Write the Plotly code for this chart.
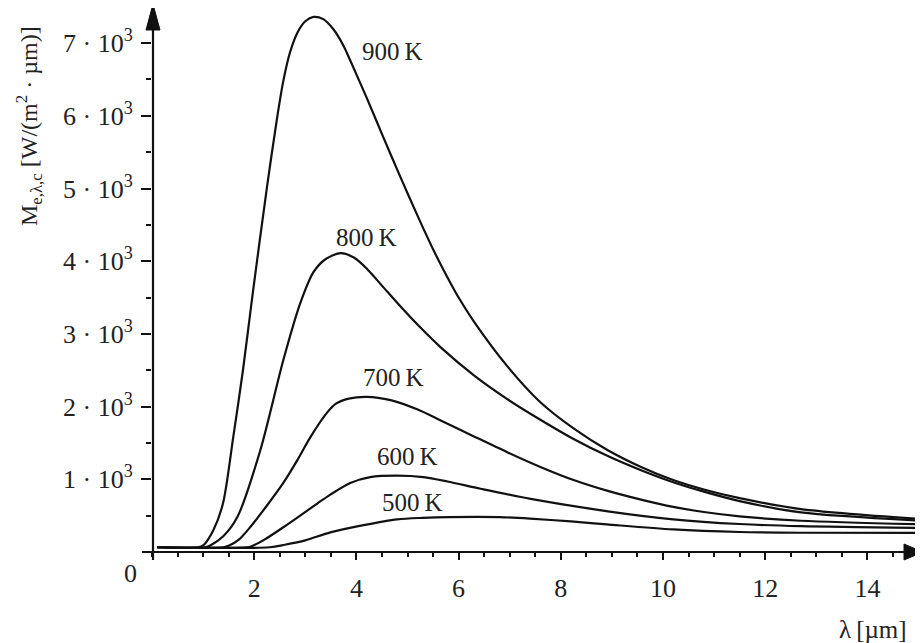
import plotly.graph_objects as go

# ---- data (lambda in µm, M in W/(m²·µm)) ----
lam_900 = [0.1, 0.9, 1.0, 1.2, 1.39, 1.59, 1.78, 1.97, 2.25, 2.45, 2.57, 2.7, 2.85, 3.0, 3.16, 3.35, 3.55,
           3.75, 3.88, 4.2, 4.53, 4.86, 5.2, 5.51, 5.78, 6.0, 6.3, 6.96, 7.6, 8.25, 8.92, 9.57, 10.2,
           10.8, 11.5, 12.7, 15.1]
M_900 = [65, 65, 90, 300, 670, 1580, 2500, 3550, 5020, 5980, 6480, 6870, 7150, 7300, 7360, 7330, 7190,
         6960, 6760, 6250, 5700, 5160, 4620, 4150, 3780, 3500, 3170, 2550, 2060, 1700, 1400, 1170, 990,
         860, 740, 590, 450]

lam_800 = [0.1, 1.05, 1.14, 1.4, 1.67, 2.12, 2.57, 2.9, 3.16, 3.4, 3.69, 3.95, 4.2, 4.53, 4.86, 5.2,
           5.65, 6.3, 6.96, 7.6, 8.25, 8.92, 9.57, 10.2, 10.8, 11.5, 12.7, 15.1]
M_800 = [65, 65, 90, 220, 480, 1400, 2640, 3420, 3850, 4030, 4110, 4050, 3900, 3640, 3380, 3125,
         2815, 2430, 2100, 1820, 1555, 1320, 1125, 960, 830, 700, 545, 430]

lam_700 = [0.1, 1.4, 1.5, 1.7, 1.92, 2.25, 2.57, 2.85, 3.1, 3.43, 3.6, 3.85, 4.2, 4.67, 5.2, 5.65,
           6.3, 6.96, 7.6, 8.25, 8.92, 9.57, 10.2, 10.8, 11.5, 12.7, 15.1]
M_700 = [65, 65, 85, 170, 340, 640, 950, 1270, 1580, 1920, 2040, 2110, 2135, 2090, 1960, 1810,
         1590, 1370, 1170, 990, 840, 720, 620, 550, 490, 430, 380]

lam_600 = [0.1, 1.85, 1.95, 2.2, 2.57, 2.9, 3.24, 3.49, 3.88, 4.27, 4.8, 5.31, 5.78, 6.43, 7.41,
           8.92, 10.2, 11.5, 12.7, 15.1]
M_600 = [65, 65, 80, 170, 340, 500, 670, 790, 950, 1030, 1050, 1030, 970, 870, 730,
         560, 450, 385, 355, 330]

lam_500 = [0.1, 2.3, 2.6, 3.0, 3.49, 4.14, 4.8, 5.3, 5.8, 6.8, 7.4, 8.2, 8.9, 10.2, 11.5, 12.7, 15.1]
M_500 = [65, 65, 100, 160, 270, 370, 450, 470, 480, 480, 460, 420, 380, 310, 275, 265, 262]

curve_names = ["900\u2009K", "800\u2009K", "700\u2009K", "600\u2009K", "500\u2009K"]
curves_x = [lam_900, lam_800, lam_700, lam_600, lam_500]
curves_y = [M_900, M_800, M_700, M_600, M_500]

# label anchor points (data coordinates)
label_x = [4.7, 4.2, 4.72, 5.0, 5.1]
label_y = [6880, 4320, 2400, 1310, 680]

y_tick_vals = [1000, 2000, 3000, 4000, 5000, 6000, 7000]
y_tick_text = ["1 · 10<sup>3</sup>", "2 · 10<sup>3</sup>", "3 · 10<sup>3</sup>", "4 · 10<sup>3</sup>",
               "5 · 10<sup>3</sup>", "6 · 10<sup>3</sup>", "7 · 10<sup>3</sup>"]
x_tick_vals = [2, 4, 6, 8, 10, 12, 14]
x_tick_text = ["2", "4", "6", "8", "10", "12", "14"]
x_odd_tick_vals = [1, 3, 5, 7, 9, 11, 13, 15]

FONT = "Liberation Serif"
INK = "#111111"
TXT = "#222222"

# the page body adds an 8 px offset; the figure is laid out in reference pixels minus that offset
OFF = 8
W, H = 923 - OFF, 643 - OFF
PL, PR, PT, PB = 152, 923, 10, 552          # plot area edges in reference pixels
ML, MR, MT, MB = PL - OFF, 923 - PR, PT - OFF, 643 - PB
PW, PH = PR - PL, PB - PT
X_MAX = PW / 51.1
Y_MAX = PH / 72.7 * 1000


def px(xr):
    return (xr - PL) / PW


def py(yr):
    return (PB - yr) / PH


fig = go.Figure()
for xs, ys, nm in zip(curves_x, curves_y, curve_names):
    fig.add_trace(go.Scatter(x=xs, y=ys, mode="lines", name=nm,
                             line=dict(color=INK, width=2.2, shape="spline", smoothing=0.8),
                             hoverinfo="skip", showlegend=False))

annotations = []
for nm, lx, ly in zip(curve_names, label_x, label_y):
    annotations.append(dict(x=lx, y=ly, xref="x", yref="y", text=nm, showarrow=False,
                            font=dict(family=FONT, size=25, color=TXT)))

annotations += [
    dict(xref="paper", yref="paper", x=px(29), y=py(126), xanchor="center", yanchor="middle",
         text="M<sub>e,λ,c</sub> [W/(m<sup>2</sup> · µm)]",
         textangle=-90, showarrow=False, font=dict(family=FONT, size=24, color=TXT)),
    dict(xref="paper", yref="paper", x=px(909), y=py(629), xanchor="right", yanchor="middle",
         text="λ\u2009[µm]", showarrow=False, font=dict(family=FONT, size=25, color=TXT)),
    dict(xref="paper", yref="paper", x=px(130), y=py(573), xanchor="center", yanchor="middle",
         text="0", showarrow=False, font=dict(family=FONT, size=26, color=TXT)),
]

shapes = [
    # y axis line (extends slightly below origin)
    dict(type="line", xref="paper", yref="paper", x0=px(153), x1=px(153), y0=py(560), y1=py(25),
         line=dict(color=INK, width=2.2)),
    # x axis line (extends slightly left of origin)
    dict(type="line", xref="paper", yref="paper", x0=px(142), x1=px(912), y0=py(552), y1=py(552),
         line=dict(color=INK, width=2.2)),
    # arrowheads
    dict(type="path", xref="paper", yref="paper",
         path=f"M {px(146)} {py(30)} L {px(153)} {py(4)} L {px(160)} {py(30)} Z",
         fillcolor=INK, line=dict(color=INK, width=1)),
    dict(type="path", xref="paper", yref="paper",
         path=f"M {px(904)} {py(544)} L {px(923)} {py(552)} L {px(904)} {py(560)} Z",
         fillcolor=INK, line=dict(color=INK, width=1)),
]

fig.update_layout(
    width=W, height=H,
    margin=dict(l=ML, r=MR, t=MT, b=MB, pad=0),
    paper_bgcolor="white", plot_bgcolor="white",
    annotations=annotations, shapes=shapes,
    font=dict(family=FONT, color=TXT),
    xaxis=dict(range=[0, X_MAX], showgrid=False, zeroline=False, showline=False,
               tickvals=x_tick_vals, ticktext=x_tick_text, ticks="outside", ticklen=7,
               tickwidth=1.8, tickcolor=INK, ticklabelstandoff=6,
               tickfont=dict(family=FONT, size=26, color=TXT),
               minor=dict(dtick=0.5, tick0=0, ticks="outside", ticklen=4, tickwidth=1.5,
                          tickcolor=INK, showgrid=False)),
    xaxis2=dict(overlaying="x", matches="x", anchor="y", side="bottom", range=[0, X_MAX],
                showgrid=False, zeroline=False, showline=False, showticklabels=False,
                tickvals=x_odd_tick_vals, ticks="outside", ticklen=7, tickwidth=1.8, tickcolor=INK),
    yaxis=dict(range=[0, Y_MAX], showgrid=False, zeroline=False, showline=False,
               tickvals=y_tick_vals, ticktext=y_tick_text, ticks="outside", ticklen=10,
               tickwidth=1.8, tickcolor=INK, ticklabelstandoff=3,
               tickfont=dict(family=FONT, size=26, color=TXT),
               minor=dict(dtick=500, tick0=0, ticks="outside", ticklen=5, tickwidth=1.5,
                          tickcolor=INK, showgrid=False)),
)

fig.write_html("out.html")
